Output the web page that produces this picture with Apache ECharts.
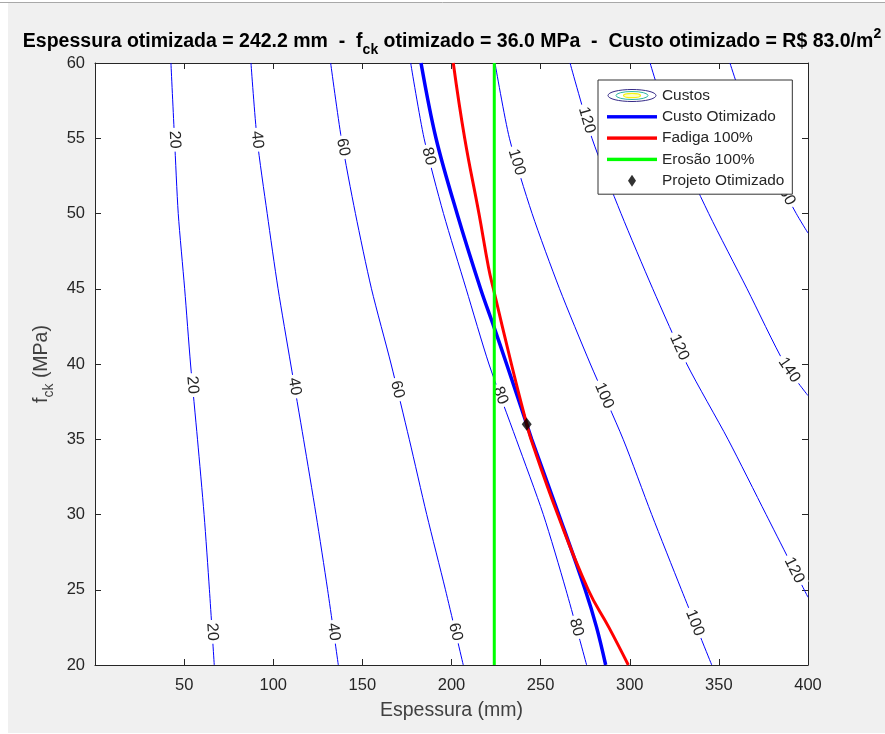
<!DOCTYPE html>
<html>
<head>
<meta charset="utf-8">
<script src="https://cdn.jsdelivr.net/npm/echarts@6/dist/echarts.min.js"></script>
<style>
  html, body { margin: 0; padding: 0; background: #ffffff; }
  #chart { width: 885px; height: 734px; }
</style>
</head>
<body>
<div id="chart"></div>
<script>
// Cost contours (R$/m²): each path is a list of [espessura (mm), fck (MPa)] points
const custo20  = [[42.6, 60], [44.6, 55], [46.7, 50], [50.3, 45], [53.6, 40], [57.5, 35], [61.2, 30], [64.2, 25], [66.9, 20]];
const custo40  = [[87.5, 60], [90.9, 55], [96.6, 50], [102.7, 45], [109.8, 40], [117.0, 35], [124.0, 30], [130.5, 25], [136.5, 20]];
const custo60  = [[132.2, 60], [138.2, 55], [146.1, 50], [155.1, 45], [166.1, 40], [176.3, 35], [186.1, 30], [196.6, 25], [206.6, 20]];
const custo80  = [[177.1, 60], [184.6, 55], [195.5, 50], [208.2, 45], [221.0, 40], [236.3, 35], [251.5, 30], [264.2, 25], [275.8, 20]];
const custo100 = [[224.4, 60], [232.5, 55], [245.2, 50], [260.6, 45], [277.9, 40], [296.3, 35], [312.3, 30], [329.0, 25], [346.0, 20]];
const custo120 = [[266.5, 60], [278.8, 55], [295.1, 50], [312.9, 45], [332.0, 40], [355.1, 35], [376.5, 30], [400.0, 24.5]];
const custo140 = [[311.4, 60], [325.0, 55], [344.3, 50], [365.8, 45], [387.0, 40], [400.0, 37.9]];
const custo160 = [[356.2, 60], [371.0, 55], [393.4, 50], [400.0, 48.7]];

const contourLevels = [20, 40, 60, 80, 100, 120, 140, 160];
const contourPaths = [custo20, custo40, custo60, custo80, custo100, custo120, custo140, custo160];

// fck (MPa) at which each contour carries its inline value label
const labelFck = [
  [54.9, 38.6, 22.2],
  [54.9, 38.5, 22.2],
  [54.4, 38.3, 22.2],
  [53.8, 37.9, 22.5],
  [53.4, 37.9, 22.8],
  [56.2, 41.1, 26.3],
  [39.6],
  [51.4]
];

// Optimal-cost contour, 100% fatigue and 100% erosion limits, optimal design
const custoOtimo = 83.0;
const custoOtimizado = [[182.9, 60], [191.3, 55], [203.1, 50], [216.3, 45], [223.7, 42.5], [230.9, 40], [242.2, 36], [245.0, 35], [260.2, 30], [275.0, 25], [281.4, 22.5], [286.5, 20]];
const fadiga100 = [[201.0, 60], [207.4, 55], [215.4, 50], [220.8, 46.4], [223.5, 45], [233.6, 40], [242.2, 36], [244.6, 35], [259.6, 30], [276.7, 25], [288.3, 22.5], [299.2, 20]];
const erosao100 = [[224.0, 20], [224.0, 60]];
const projetoOtimizado = [[242.2, 36.0]];

// Axis ranges and tick spacing
const xRange = [0, 400], xStep = 50;
const yRange = [20, 60], yStep = 5;

const FONT = '"Liberation Sans", Arial, Helvetica, sans-serif';
const TXT = '#262626';

// espessura on a path at a given fck (linear between traced points)
function hAt(path, f) {
  for (let i = 0; i < path.length - 1; i++) {
    const a = path[i], b = path[i + 1];
    const lo = Math.min(a[1], b[1]), hi = Math.max(a[1], b[1]);
    if (f >= lo && f <= hi) {
      const t = (f - a[1]) / (b[1] - a[1]);
      return a[0] + t * (b[0] - a[0]);
    }
  }
  const last = f > path[0][1] ? path[0] : path[path.length - 1];
  return last[0];
}

const labelData = [];
contourPaths.forEach((p, i) => {
  labelFck[i].forEach(f => labelData.push([hAt(p, f), f, contourLevels[i], i]));
});

function svgIcon(body) {
  const svg = "<svg xmlns='http://www.w3.org/2000/svg' width='50' height='14' viewBox='0 0 50 14'>" + body + "</svg>";
  return 'image://data:image/svg+xml;charset=utf-8,' + encodeURIComponent(svg);
}
const iconCustos = svgIcon(
  "<ellipse cx='25' cy='7' rx='24' ry='6' fill='none' stroke='#352a87' stroke-width='1'/>" +
  "<ellipse cx='25' cy='7' rx='16' ry='4' fill='none' stroke='#2eb7a4' stroke-width='1'/>" +
  "<ellipse cx='25' cy='7' rx='8.5' ry='2.2' fill='#fdfdc8' stroke='#f5f50e' stroke-width='1.2'/>");
const iconLine = c => svgIcon("<rect x='0' y='5.3' width='50' height='3.4' fill='" + c + "'/>");
const iconDiamond = svgIcon("<polygon points='25,1 29,7 25,13 21,7' fill='#000'/>");

const contourSeries = contourPaths.map(p => ({
  name: 'Custos',
  type: 'line',
  data: p,
  showSymbol: false,
  symbol: 'none',
  smooth: 0.25,
  lineStyle: { color: '#0000ff', width: 1 },
  itemStyle: { color: '#0000ff' },
  silent: true,
  z: 2
}));

const chart = echarts.init(document.getElementById('chart'), null, { renderer: 'canvas' });

const option = {
  animation: false,
  backgroundColor: '#ffffff',
  graphic: [
    { type: 'rect', z: -10, silent: true, shape: { x: 8, y: 3, width: 877, height: 730 }, style: { fill: '#f0f0f0' } },
    { type: 'line', z: -9, silent: true, shape: { x1: 0, y1: 2.5, x2: 885, y2: 2.5 }, style: { stroke: '#a8a8a8', lineWidth: 1 } }
  ],
  title: {
    text: '{b|Espessura otimizada = ' + projetoOtimizado[0][0].toFixed(1) + ' mm  -  f}{sub|ck}{b| otimizado = ' +
      projetoOtimizado[0][1].toFixed(1) + ' MPa  -  Custo otimizado = R$ ' + custoOtimo.toFixed(1) + '/m}{sup|2}',
    left: 447,
    textAlign: 'center',
    top: 22,
    textStyle: {
      rich: {
        b: { fontFamily: FONT, fontWeight: 'bold', fontSize: 19.5, color: '#000', lineHeight: 30 },
        sub: { fontFamily: FONT, fontWeight: 'bold', fontSize: 14, color: '#000', lineHeight: 14, verticalAlign: 'top', padding: [16, 0, 0, 0] },
        sup: { fontFamily: FONT, fontWeight: 'bold', fontSize: 14, color: '#000', lineHeight: 14, verticalAlign: 'top', padding: [0, 0, 0, 0] }
      }
    }
  },
  legend: {
    orient: 'vertical',
    left: 598,
    top: 80,
    itemWidth: 50,
    itemHeight: 15,
    itemGap: 6.3,
    padding: [8, 8, 6, 9],
    backgroundColor: '#ffffff',
    borderColor: '#333333',
    borderWidth: 1,
    borderRadius: 0,
    selectedMode: false,
    textStyle: { fontFamily: FONT, fontSize: 15.4, color: TXT },
    data: [
      { name: 'Custos', icon: iconCustos },
      { name: 'Custo Otimizado', icon: iconLine('#0000ff') },
      { name: 'Fadiga 100%', icon: iconLine('#ff0000') },
      { name: 'Erosão 100%', icon: iconLine('#00ff00') },
      { name: 'Projeto Otimizado', icon: iconDiamond }
    ]
  },
  grid: { left: 95, right: 77, top: 63, bottom: 69, show: true, backgroundColor: '#ffffff', borderWidth: 0 },
  xAxis: [
    {
      type: 'value', min: xRange[0], max: xRange[1], interval: xStep, position: 'bottom',
      axisLine: { show: true, onZero: false, lineStyle: { color: TXT, width: 1 } },
      axisTick: { show: true, inside: true, length: 6, lineStyle: { color: TXT } },
      axisLabel: { showMinLabel: false, color: TXT, fontFamily: FONT, fontSize: 16.5, margin: 12 },
      splitLine: { show: false },
      name: 'Espessura (mm)', nameLocation: 'middle', nameGap: 36,
      nameTextStyle: { fontFamily: FONT, fontSize: 19.5, color: '#404040' }
    },
    {
      type: 'value', min: xRange[0], max: xRange[1], interval: xStep, position: 'top',
      axisLine: { show: true, onZero: false, lineStyle: { color: TXT, width: 1 } },
      axisTick: { show: true, inside: true, length: 6, lineStyle: { color: TXT } },
      axisLabel: { show: false }, splitLine: { show: false }
    }
  ],
  yAxis: [
    {
      type: 'value', min: yRange[0], max: yRange[1], interval: yStep, position: 'left',
      axisLine: { show: true, onZero: false, lineStyle: { color: TXT, width: 1 } },
      axisTick: { show: true, inside: true, length: 6, lineStyle: { color: TXT } },
      axisLabel: { color: TXT, fontFamily: FONT, fontSize: 16.5, margin: 10 },
      splitLine: { show: false },
      name: '{a|f}{s|ck}{a| (MPa)}', nameLocation: 'middle', nameGap: 37,
      nameTextStyle: {
        rich: {
          a: { fontFamily: FONT, fontSize: 19.5, color: '#404040', lineHeight: 26 },
          s: { fontFamily: FONT, fontSize: 14, color: '#404040', lineHeight: 14, verticalAlign: 'top', padding: [13, 0, 0, 0] }
        }
      }
    },
    {
      type: 'value', min: yRange[0], max: yRange[1], interval: yStep, position: 'right',
      axisLine: { show: true, onZero: false, lineStyle: { color: TXT, width: 1 } },
      axisTick: { show: true, inside: true, length: 6, lineStyle: { color: TXT } },
      axisLabel: { show: false }, splitLine: { show: false }
    }
  ],
  series: contourSeries.concat([
    {
      name: 'rotulosCusto',
      type: 'custom',
      coordinateSystem: 'cartesian2d',
      data: labelData,
      encode: { x: 0, y: 1 },
      silent: true,
      z: 3,
      renderItem: function (params, api) {
        const d = labelData[params.dataIndex];
        const path = contourPaths[d[3]];
        const f = d[1];
        const p = api.coord([d[0], f]);
        const a = api.coord([hAt(path, f + 0.8), f + 0.8]);
        const b = api.coord([hAt(path, f - 0.8), f - 0.8]);
        const ang = Math.atan2(b[1] - a[1], b[0] - a[0]);
        return {
          type: 'text',
          x: p[0], y: p[1],
          rotation: -ang,
          style: {
            text: String(d[2]),
            fill: TXT,
            font: '16px ' + FONT,
            align: 'center',
            verticalAlign: 'middle',
            backgroundColor: '#ffffff',
            padding: [0, 3, 0, 3]
          }
        };
      }
    },
    {
      name: 'Custo Otimizado', type: 'line', data: custoOtimizado, showSymbol: false, symbol: 'none',
      smooth: 0.35, lineStyle: { color: '#0000ff', width: 3.5 }, itemStyle: { color: '#0000ff' }, z: 3
    },
    {
      name: 'Fadiga 100%', type: 'line', data: fadiga100, showSymbol: false, symbol: 'none',
      smooth: 0.45, lineStyle: { color: '#ff0000', width: 3 }, itemStyle: { color: '#ff0000' }, z: 3
    },
    {
      name: 'Erosão 100%', type: 'line', data: erosao100, showSymbol: false, symbol: 'none',
      lineStyle: { color: '#00ff00', width: 3 }, itemStyle: { color: '#00ff00' }, z: 3
    },
    {
      name: 'Projeto Otimizado', type: 'scatter', data: projetoOtimizado, symbol: 'diamond',
      symbolSize: [10, 13], itemStyle: { color: '#000000' }, z: 3
    }
  ])
};

chart.setOption(option);
</script>
</body>
</html>
